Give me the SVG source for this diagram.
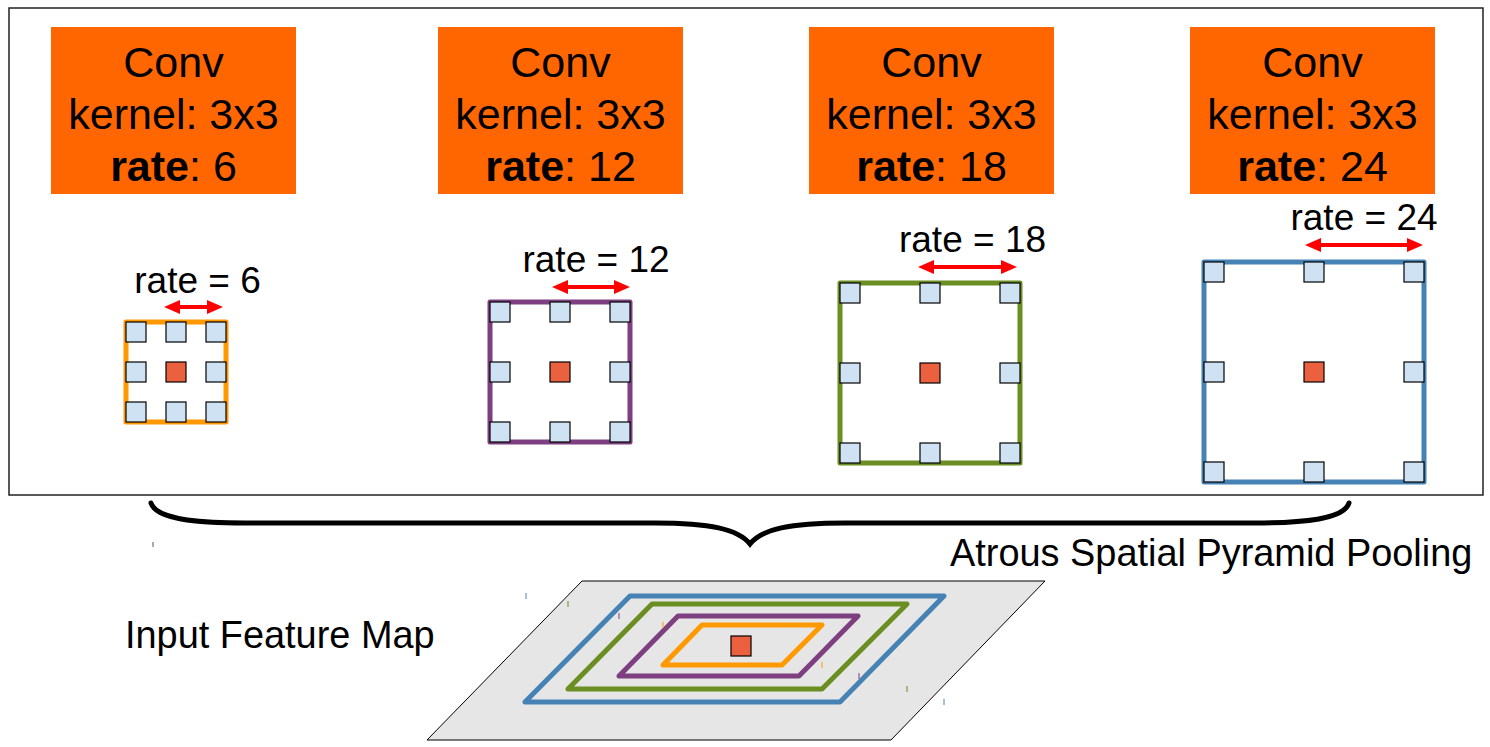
<svg xmlns="http://www.w3.org/2000/svg" width="1490" height="747" viewBox="0 0 1490 747">
<style>
.box{fill:#ff6600;}
.ct{font-family:"Liberation Sans",Arial,sans-serif;font-size:43px;fill:#000;text-anchor:middle;}
.lbl{font-family:"Liberation Sans",Arial,sans-serif;font-size:37.9px;fill:#000;}
.rl{font-family:"Liberation Sans",Arial,sans-serif;font-size:37px;fill:#000;text-anchor:middle;}
.cell{fill:#cfe2f3;stroke:#000;stroke-width:1.2;}
.ctr{fill:#eb6140;stroke:#000;stroke-width:1.2;}
.frame{fill:none;stroke-width:5;stroke-linejoin:round;}
.pg{fill:none;stroke-width:5;stroke-linejoin:round;}
.arr{fill:#ff0000;}
.tick{stroke-width:1;}
</style>
<rect x="9" y="8" width="1474" height="487" fill="#fff" stroke="#222" stroke-width="1.5"/>

<g id="conv6">
<rect class="box" x="51" y="27" width="245" height="167"/>
<text class="ct" x="173.5" y="77">Conv</text>
<text class="ct" x="173.5" y="129">kernel: 3x3</text>
<text class="ct" x="173.5" y="181"><tspan font-weight="bold">rate</tspan>: 6</text>
</g>
<g id="conv12">
<rect class="box" x="438" y="27" width="245" height="167"/>
<text class="ct" x="560.5" y="77">Conv</text>
<text class="ct" x="560.5" y="129">kernel: 3x3</text>
<text class="ct" x="560.5" y="181"><tspan font-weight="bold">rate</tspan>: 12</text>
</g>
<g id="conv18">
<rect class="box" x="809" y="27" width="245" height="167"/>
<text class="ct" x="931.5" y="77">Conv</text>
<text class="ct" x="931.5" y="129">kernel: 3x3</text>
<text class="ct" x="931.5" y="181"><tspan font-weight="bold">rate</tspan>: 18</text>
</g>
<g id="conv24">
<rect class="box" x="1190" y="27" width="245" height="167"/>
<text class="ct" x="1312.5" y="77">Conv</text>
<text class="ct" x="1312.5" y="129">kernel: 3x3</text>
<text class="ct" x="1312.5" y="181"><tspan font-weight="bold">rate</tspan>: 24</text>
</g>

<g id="kernel6">
<rect class="frame" x="126" y="322" width="100" height="100" stroke="#ff9900"/>
<rect class="cell" x="126" y="322" width="20" height="20"/>
<rect class="cell" x="166" y="322" width="20" height="20"/>
<rect class="cell" x="206" y="322" width="20" height="20"/>
<rect class="cell" x="126" y="362" width="20" height="20"/>
<rect class="ctr" x="166" y="362" width="20" height="20"/>
<rect class="cell" x="206" y="362" width="20" height="20"/>
<rect class="cell" x="126" y="402" width="20" height="20"/>
<rect class="cell" x="166" y="402" width="20" height="20"/>
<rect class="cell" x="206" y="402" width="20" height="20"/>
<text class="rl" x="197.5" y="293">rate = 6</text>
</g>
<g id="kernel12">
<rect class="frame" x="490" y="302" width="140" height="140" stroke="#7e3f80"/>
<rect class="cell" x="490" y="302" width="20" height="20"/>
<rect class="cell" x="550" y="302" width="20" height="20"/>
<rect class="cell" x="610" y="302" width="20" height="20"/>
<rect class="cell" x="490" y="362" width="20" height="20"/>
<rect class="ctr" x="550" y="362" width="20" height="20"/>
<rect class="cell" x="610" y="362" width="20" height="20"/>
<rect class="cell" x="490" y="422" width="20" height="20"/>
<rect class="cell" x="550" y="422" width="20" height="20"/>
<rect class="cell" x="610" y="422" width="20" height="20"/>
<text class="rl" x="596" y="272">rate = 12</text>
</g>
<g id="kernel18">
<rect class="frame" x="840" y="283" width="180" height="180" stroke="#6b8e23"/>
<rect class="cell" x="840" y="283" width="20" height="20"/>
<rect class="cell" x="920" y="283" width="20" height="20"/>
<rect class="cell" x="1000" y="283" width="20" height="20"/>
<rect class="cell" x="840" y="363" width="20" height="20"/>
<rect class="ctr" x="920" y="363" width="20" height="20"/>
<rect class="cell" x="1000" y="363" width="20" height="20"/>
<rect class="cell" x="840" y="443" width="20" height="20"/>
<rect class="cell" x="920" y="443" width="20" height="20"/>
<rect class="cell" x="1000" y="443" width="20" height="20"/>
<text class="rl" x="972.5" y="252">rate = 18</text>
</g>
<g id="kernel24">
<rect class="frame" x="1204" y="262" width="220" height="220" stroke="#4682b4"/>
<rect class="cell" x="1204" y="262" width="20" height="20"/>
<rect class="cell" x="1304" y="262" width="20" height="20"/>
<rect class="cell" x="1404" y="262" width="20" height="20"/>
<rect class="cell" x="1204" y="362" width="20" height="20"/>
<rect class="ctr" x="1304" y="362" width="20" height="20"/>
<rect class="cell" x="1404" y="362" width="20" height="20"/>
<rect class="cell" x="1204" y="462" width="20" height="20"/>
<rect class="cell" x="1304" y="462" width="20" height="20"/>
<rect class="cell" x="1404" y="462" width="20" height="20"/>
<text class="rl" x="1364" y="230">rate = 24</text>
</g>

<g id="arrows">
<path class="arr" d="M164,307 L180,300 L180,305 L207,305 L207,300 L223,307 L207,314 L207,309 L180,309 L180,314 Z"/>
<path class="arr" d="M552,287 L568,280 L568,285 L614,285 L614,280 L630,287 L614,294 L614,289 L568,289 L568,294 Z"/>
<path class="arr" d="M918,267 L934,260 L934,265 L1001,265 L1001,260 L1017,267 L1001,274 L1001,269 L934,269 L934,274 Z"/>
<path class="arr" d="M1305,245 L1321,238 L1321,243 L1407,243 L1407,238 L1423,245 L1407,252 L1407,247 L1321,247 L1321,252 Z"/>
</g>

<g id="brace">
<path d="M151,503 C156,519 195,523 245,523 L655,523 C710,523 738,529 750,544 C762,529 790,523 845,523 L1255,523 C1305,523 1344,519 1349,503" fill="none" stroke="#000" stroke-width="5" stroke-linecap="round"/>
<text class="lbl" x="950" y="566">Atrous Spatial Pyramid Pooling</text>
</g>

<g id="input-map">
<polygon points="582,581 1045,581 891,740 427,740" fill="#e6e6e6" stroke="#000" stroke-width="1"/>
<polygon class="pg" points="630,596 944,596 840,702 525,702" stroke="#4682b4"/>
<polygon class="pg" points="652,604 907,604 822,689 568,689" stroke="#6b8e23"/>
<polygon class="pg" points="678,616 858,616 799,676 619,676" stroke="#7e3f80"/>
<polygon class="pg" points="702,625 822,625 782,665 663,665" stroke="#ff9900"/>
<rect class="ctr" x="731" y="636" width="20" height="20"/>
<line class="tick" x1="526" y1="593" x2="526" y2="599" stroke="#4682b4"/>
<line class="tick" x1="568" y1="601" x2="568" y2="607" stroke="#6b8e23"/>
<line class="tick" x1="619" y1="613" x2="619" y2="619" stroke="#7e3f80"/>
<line class="tick" x1="663" y1="622" x2="663" y2="628" stroke="#ff9900"/>
<line class="tick" x1="822" y1="662" x2="822" y2="668" stroke="#ff9900"/>
<line class="tick" x1="859" y1="673" x2="859" y2="679" stroke="#7e3f80"/>
<line class="tick" x1="907" y1="686" x2="907" y2="692" stroke="#6b8e23"/>
<line class="tick" x1="944" y1="699" x2="944" y2="705" stroke="#4682b4"/>
<line class="tick" x1="153" y1="542" x2="153" y2="547" stroke="#555"/>
<text class="lbl" x="125" y="648">Input Feature Map</text>
</g>
</svg>
